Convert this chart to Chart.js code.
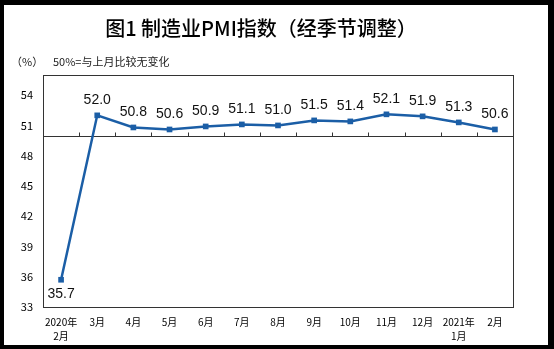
<!DOCTYPE html>
<html>
<head>
<meta charset="utf-8">
<script src="https://cdn.jsdelivr.net/npm/chart.js@4/dist/chart.umd.min.js"></script>
<style>
  html, body { margin: 0; padding: 0; background: #000; }
  #frame { position: absolute; left: 4px; top: 5px; width: 544px; height: 340px; background: #fff; }
</style>
</head>
<body>
<div id="frame"><canvas id="pmi-chart" width="544" height="340"></canvas></div>
<script>
const categories = [['2020年', '2月'], '3月', '4月', '5月', '6月', '7月', '8月', '9月', '10月', '11月', '12月', ['2021年', '1月'], '2月']
const pmiValues = [35.7, 52.0, 50.8, 50.6, 50.9, 51.1, 51.0, 51.5, 51.4, 52.1, 51.9, 51.3, 50.6]
const yTickValues = [33, 36, 39, 42, 45, 48, 51, 54]
const baseline = 50

const titleText = '图1 制造业PMI指数（经季节调整）'
const unitText = '（%）'
const noteText = '50%=与上月比较无变化'

const lineColor = '#1b5ea6'
const cjk = '"Noto Sans CJK SC", sans-serif'

// frame, 50 line, value labels, title
const decorations = {
  id: 'decorations',
  beforeDatasetsDraw(chart) {
    const { ctx, chartArea: a, scales: { x, y } } = chart
    ctx.save()
    ctx.strokeStyle = '#333'
    ctx.lineWidth = 1
    ctx.strokeRect(Math.round(a.left) + 0.5, Math.round(a.top) + 0.5,
      Math.round(a.right - a.left), Math.round(a.bottom - a.top))
    const yb = Math.round(y.getPixelForValue(baseline)) + 0.5
    ctx.beginPath()
    ctx.moveTo(a.left, yb)
    ctx.lineTo(a.right, yb)
    for (let i = 1; i < categories.length; i++) {
      const xp = Math.round((x.getPixelForTick(i - 1) + x.getPixelForTick(i)) / 2) + 0.5
      ctx.moveTo(xp, yb)
      ctx.lineTo(xp, yb - 4)
    }
    ctx.stroke()
    ctx.restore()
  },
  afterDraw(chart) {
    const { ctx } = chart
    const meta = chart.getDatasetMeta(0)
    ctx.save()
    ctx.fillStyle = '#111'
    ctx.font = '14px "Liberation Sans", Arial, sans-serif'
    ctx.textAlign = 'center'
    ctx.textBaseline = 'middle'
    meta.data.forEach((pt, i) => {
      const v = pmiValues[i]
      const dy = v < baseline ? 14 : -15
      ctx.fillText(v.toFixed(1), pt.x, pt.y + dy)
    })

    ctx.font = '500 20px ' + cjk
    ctx.fillStyle = '#000'
    ctx.fillText(titleText, 257, 23)

    ctx.font = '11px ' + cjk
    ctx.fillStyle = '#222'
    ctx.textAlign = 'left'
    ctx.fillText(unitText, 7, 57)
    ctx.fillText(noteText, 49, 57)
    ctx.restore()
  }
}

const ctx = document.querySelector('#pmi-chart')
const chart = new Chart(ctx, {
  type: 'line',
  data: {
    labels: categories,
    datasets: [{
      data: pmiValues,
      borderColor: lineColor,
      backgroundColor: lineColor,
      borderWidth: 2.5,
      pointStyle: 'rect',
      pointRadius: 4,
      pointBorderWidth: 0,
      fill: false,
      tension: 0
    }]
  },
  options: {
    responsive: false,
    animation: false,
    layout: { padding: { top: 70, right: 35, left: 0, bottom: 0 } },
    plugins: {
      legend: { display: false },
      tooltip: { enabled: false }
    },
    scales: {
      x: {
        offset: true,
        grid: { display: false },
        border: { display: false },
        ticks: {
          autoSkip: false,
          maxRotation: 0,
          padding: 0,
          color: '#000',
          font: { family: cjk, size: 10, lineHeight: 1.4 }
        },
        afterFit(scale) { scale.height = 38 }
      },
      y: {
        min: 33,
        max: 56,
        grid: { display: false },
        border: { display: false },
        ticks: {
          padding: 2,
          color: '#000',
          font: { family: cjk, size: 11 }
        },
        afterBuildTicks(scale) {
          scale.ticks = yTickValues.map(v => ({ value: v }))
        },
        afterFit(scale) { scale.width = 39 }
      }
    }
  },
  plugins: [decorations]
})
</script>
</body>
</html>
